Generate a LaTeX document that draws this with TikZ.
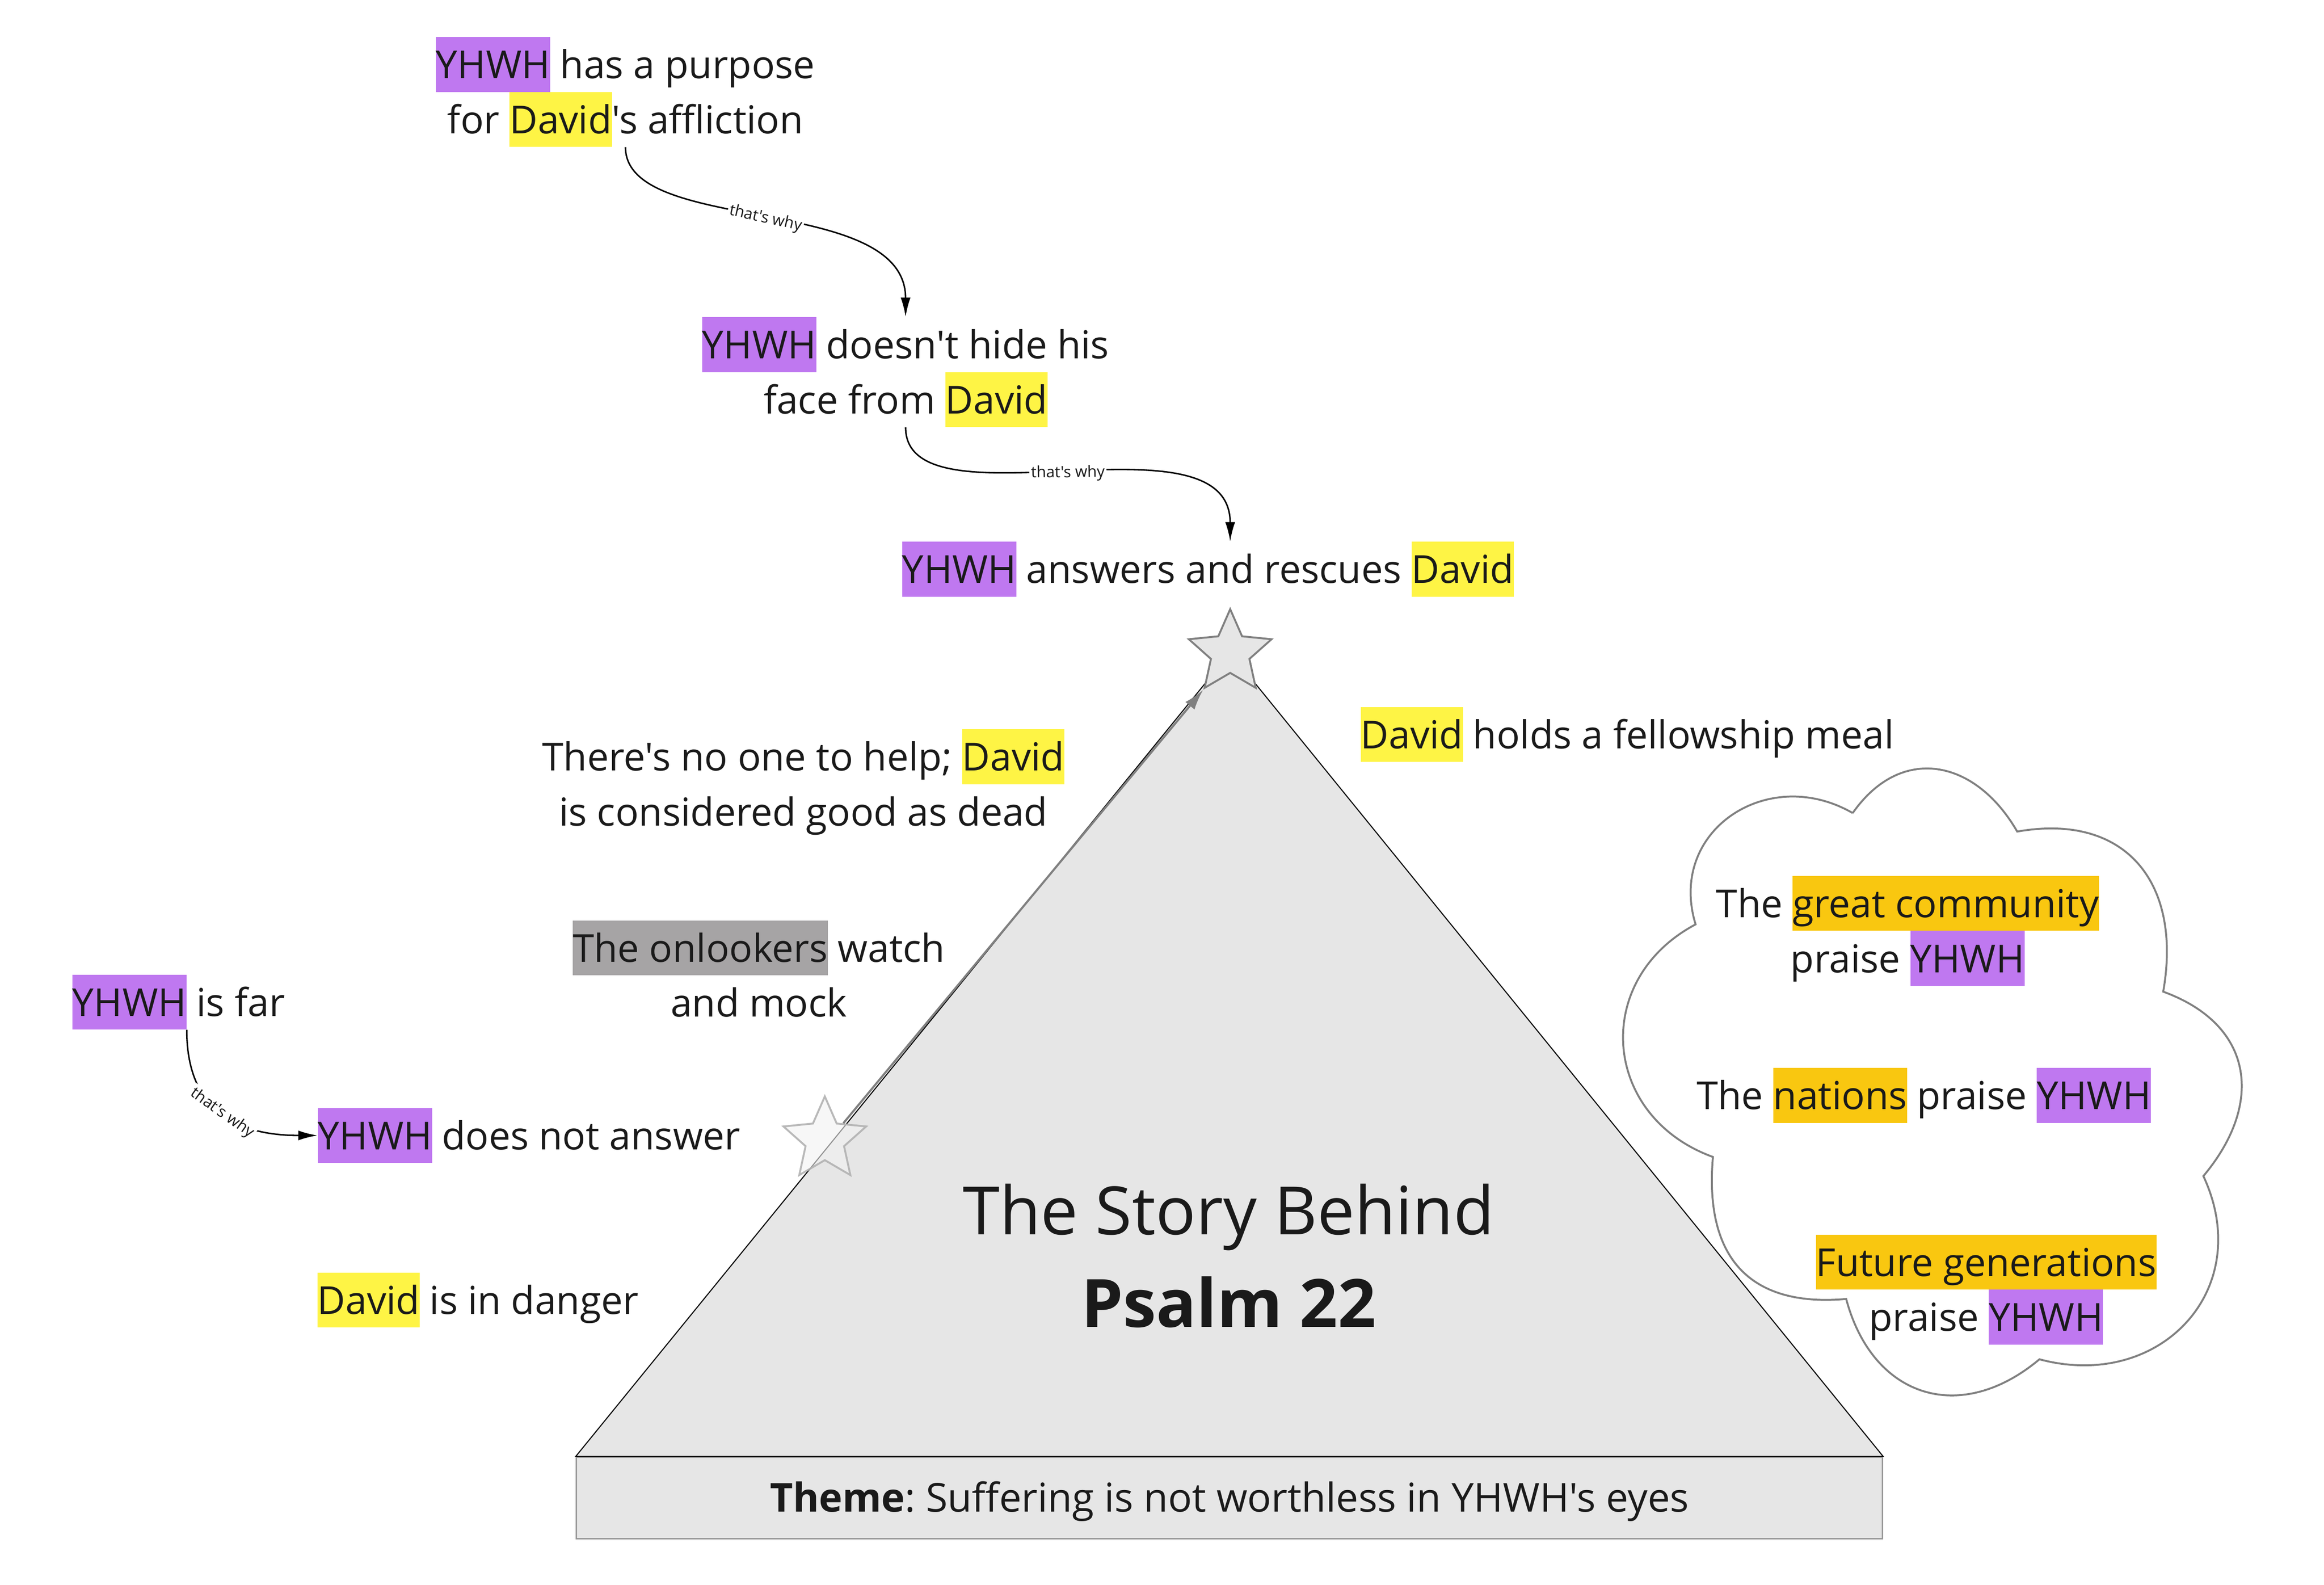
\documentclass[tikz,border=0pt]{standalone}
\usepackage{fontspec}
\setmainfont{Open Sans}[Ligatures=TeXOff]
\usepackage{xcolor}
\usepackage{tikz}
\usetikzlibrary{arrows.meta,shapes.geometric,positioning}
\definecolor{yhwh}{RGB}{191, 120, 240}
\definecolor{david}{RGB}{254, 244, 69}
\definecolor{crowd}{RGB}{249, 199, 16}
\definecolor{mocker}{RGB}{166, 164, 165}
\definecolor{stone}{RGB}{230, 230, 230}
\definecolor{ink}{RGB}{26, 26, 26}
\definecolor{edgegray}{RGB}{128, 128, 128}

\newcommand{\hlstrut}{\rule[-7.7pt]{0pt}{31.6pt}}
\newcommand{\hl}[2]{{\setlength{\fboxsep}{0pt}\colorbox{#1}{\hlstrut#2}}}
\newcommand{\storyfont}{\fontsize{22.2pt}{31.6pt}\selectfont}
\frenchspacing

\tikzset{
    story/.style={font=\storyfont, text=ink, align=center, inner sep=0pt},
    why/.style={-{Latex[length=3.9mm,width=2mm]}, line width=0.85pt, black},
    whylabel/.style={midway, sloped, fill=white, inner sep=1pt, text=ink, font=\fontsize{9pt}{10pt}\selectfont},
    peak/.style={star, star points=5, star point ratio=2.15, minimum size=1.76cm, inner sep=0pt},
}

\begin{document}
\begin{tikzpicture}[x=0.03cm, y=0.03cm]
            \useasboundingbox (0,0) rectangle (1568,-1069);

            % Base of the pyramid
            \node[story, font=\fontsize{22.9pt}{31.6pt}\selectfont, fill=stone, draw=black!40, line width=0.85pt, minimum width=26.43cm, minimum height=1.65cm] (theme) at (829.5,-1010.5) {\hlstrut\textbf{Theme}: Suffering is not worthless in YHWH's eyes};
            \coordinate (apex) at (830,-440.3);
            \filldraw[fill=stone, draw=black, line width=0.6pt] (theme.north west) -- (apex) -- (theme.north east) -- cycle;
            \node[font=\fontsize{38.4pt}{53.3pt}\selectfont, text=ink, align=center, inner sep=0pt] (title) at (829,-851.75) {\strut The Story Behind\\\strut\textbf{Psalm 22}};

            % Stars
            \node[peak, fill=stone, draw=edgegray, line width=1.1pt] (topstar) at (apex) {};
            \node[peak, fill=black!5, fill opacity=0.6, draw=black!30, draw opacity=0.9, line width=1.1pt] (lowstar) at (556.5,-769) {};
            \draw[edgegray, line width=1.2pt, -{Latex[length=4.2mm,width=2.4mm]}] (lowstar.42) -- (topstar.outer point 3);

            % Story steps
            \node[story] (t1) at (422,-62) {\hl{yhwh}{YHWH} has a purpose\\for \hl{david}{David}'s affliction};
            \node[story] (t2) at (611,-251) {\hl{yhwh}{YHWH} doesn't hide his\\face from \hl{david}{David}};
            \node[story] (t3) at (815,-384) {\hl{yhwh}{YHWH} answers and rescues \hl{david}{David}};
            \node[story] (t4) at (542,-529) {There's no one to help; \hl{david}{David}\\\hlstrut is considered good as dead};
            \node[story] (t5) at (512,-658) {\hl{mocker}{The onlookers} watch\\\hlstrut and mock};
            \node[story] (t6) at (120.5,-676) {\hl{yhwh}{YHWH} is far};
            \node[story] (t7) at (357,-766) {\hl{yhwh}{YHWH} does not answer};
            \node[story] (t8) at (322.5,-877) {\hl{david}{David} is in danger};
            \node[story] (t9) at (1098,-495.5) {\hl{david}{David} holds a fellowship meal};

            % Arrows
            \draw[why] (t1.south) .. controls +(0,-60) and +(0,84) .. (t2.north) node[whylabel] {that's why};
            \draw[why] (t2.south) .. controls +(0,-70) and +(0,90) .. (t3.north -| topstar) node[whylabel] {that's why};
            \draw[why] ([xshift=0.165cm]t6.south) .. controls +(0,-55) and +(-54,0) .. (t7.west) node[whylabel] {that's why};

            % Cloud of praise
            \coordinate (puffA) at (1250,-548.5);
            \coordinate (puffB) at (1361,-561);
            \coordinate (puffC) at (1459.5,-669);
            \coordinate (puffD) at (1486.6,-793.4);
            \coordinate (puffE) at (1376,-917);
            \coordinate (puffF) at (1245.6,-876.3);
            \coordinate (puffG) at (1155.7,-780.5);
            \coordinate (puffH) at (1144,-623.6);
            \draw[edgegray, line width=1.1pt, looseness=1.3] (puffA) to[out=55,in=120] (puffB) to[out=10,in=80] (puffC)
                to[out=-20,in=50] (puffD) to[out=-65,in=-15] (puffE) to[out=-140,in=-75] (puffF)
                to[out=185,in=-95] (puffG) to[out=160,in=-152] (puffH) to[out=107,in=150] (puffA);

            \node[story] (c1) at (1287,-628) {The \hl{crowd}{great community}\\praise \hl{yhwh}{YHWH}};
            \node[story] (c2) at (1298,-739) {The \hl{crowd}{nations} praise \hl{yhwh}{YHWH}};
            \node[story] (c3) at (1340,-870) {\hl{crowd}{Future generations}\\praise \hl{yhwh}{YHWH}};
        \end{tikzpicture}
\end{document}
